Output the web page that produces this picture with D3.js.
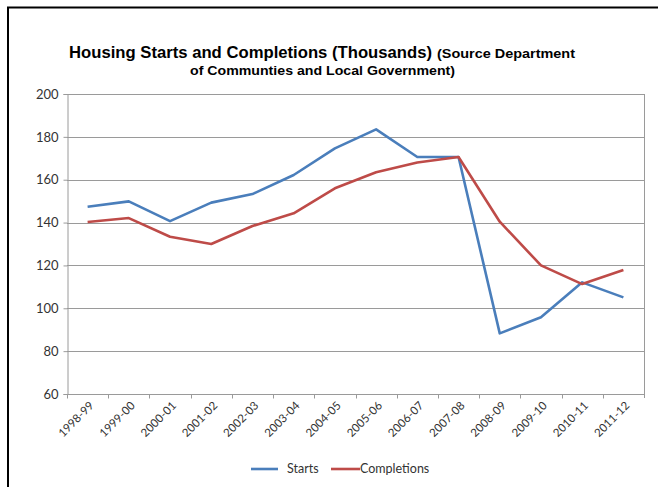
<!DOCTYPE html>
<html>
<head>
<meta charset="utf-8">
<script src="https://cdn.jsdelivr.net/npm/d3@7"></script>
<style>
  html, body { margin: 0; padding: 0; background: #fff; }
  svg { display: block; }
</style>
</head>
<body>
<svg id="chart" width="658" height="487"></svg>
<script>
// Financial years on the category axis
const years = ["1998-99","1999-00","2000-01","2001-02","2002-03","2003-04","2004-05",
               "2005-06","2006-07","2007-08","2008-09","2009-10","2010-11","2011-12"];
// Housing starts (thousands)
const starts = [147.4, 149.9, 140.7, 149.3, 153.3, 162.2, 174.6, 183.5, 170.6, 170.6, 88.3, 95.8, 112.1, 105.1];
// Housing completions (thousands)
const completions = [140.3, 142.1, 133.4, 130.0, 138.4, 144.3, 156.0, 163.5, 168.0, 170.6, 140.4, 120.0, 111.3, 117.9];
// Value axis ticks
const yTicks = [60, 80, 100, 120, 140, 160, 180, 200];
const seriesNames = ["Starts", "Completions"];
const seriesColors = ["#4a7ebb", "#be4b48"];

const svg = d3.select("#chart");
const plot = { left: 67, right: 644, top: 94, bottom: 394 };

// Outer chart frame (top and left edges)
svg.append("path")
  .attr("d", "M8,487 L8,7.5 L658,7.5")
  .attr("fill", "none").attr("stroke", "#000").attr("stroke-width", 2);

const x = d3.scaleBand().domain(years).range([plot.left, plot.right]);
const y = d3.scaleLinear().domain([60, 200]).range([plot.bottom, plot.top]);

const font = "Lato, 'Open Sans', sans-serif";

// Horizontal gridlines
svg.append("g").selectAll("line").data(yTicks.filter(d => d > 60)).join("line")
  .attr("x1", plot.left).attr("x2", plot.right)
  .attr("y1", d => Math.round(y(d)) + 0.5).attr("y2", d => Math.round(y(d)) + 0.5)
  .attr("stroke", "#9a9a9a").attr("stroke-width", 1);

// Right edge of the plot area
svg.append("line")
  .attr("x1", plot.right + 0.5).attr("x2", plot.right + 0.5)
  .attr("y1", plot.top).attr("y2", plot.bottom + 4)
  .attr("stroke", "#9a9a9a");

// Value axis
const yAxis = d3.axisLeft(y).tickValues(yTicks).tickSize(4).tickPadding(5);
const gy = svg.append("g").attr("transform", `translate(${plot.left + 0.5},0)`).call(yAxis);
gy.select(".domain").attr("stroke", "#9a9a9a");
gy.selectAll(".tick line").attr("stroke", "#9a9a9a");
gy.selectAll(".tick text").attr("fill", "#333").style("font", `13px ${font}`);

// Category axis: ticks sit on band boundaries
const gx = svg.append("g").attr("transform", `translate(0,${plot.bottom + 0.5})`);
gx.append("line").attr("x1", plot.left).attr("x2", plot.right)
  .attr("stroke", "#9a9a9a");
gx.selectAll("line.tick").data(years).join("line")
  .attr("class", "tick")
  .attr("x1", d => Math.round(x(d)) + 0.5).attr("x2", d => Math.round(x(d)) + 0.5)
  .attr("y1", 0).attr("y2", 4)
  .attr("stroke", "#9a9a9a");
gx.selectAll("text").data(years).join("text")
  .attr("transform", d => `translate(${x(d) + x.bandwidth() / 2 + 4},${9}) rotate(-45)`)
  .attr("text-anchor", "end")
  .attr("dy", "0.35em")
  .attr("fill", "#333")
  .style("font", `11.5px ${font}`)
  .text(d => d);

// Series lines
const line = d3.line()
  .x((d, i) => x(years[i]) + x.bandwidth() / 2)
  .y(d => y(d));

[starts, completions].forEach((vals, i) => {
  svg.append("path")
    .datum(vals)
    .attr("fill", "none")
    .attr("stroke", seriesColors[i])
    .attr("stroke-width", 2.6)
    .attr("stroke-linejoin", "round")
    .attr("d", line);
});

// Title
const titleFont = "'Liberation Sans', Arial, sans-serif";
svg.append("text")
  .attr("x", 69).attr("y", 58)
  .attr("textLength", 363).attr("lengthAdjust", "spacingAndGlyphs")
  .attr("fill", "#000")
  .style("font-family", titleFont).style("font-weight", "bold").style("font-size", "16.5px")
  .text("Housing Starts and Completions (Thousands)");
svg.append("text")
  .attr("x", 437).attr("y", 58)
  .attr("textLength", 138).attr("lengthAdjust", "spacingAndGlyphs")
  .attr("fill", "#000")
  .style("font-family", titleFont).style("font-weight", "bold").style("font-size", "13px")
  .text("(Source Department");
svg.append("text")
  .attr("x", 190).attr("y", 75)
  .attr("textLength", 265).attr("lengthAdjust", "spacingAndGlyphs")
  .attr("fill", "#000")
  .style("font-family", titleFont).style("font-weight", "bold").style("font-size", "13px")
  .text("of Communties and Local Government)");

// Legend
const legendItems = [
  { name: seriesNames[0], color: seriesColors[0], x1: 251, x2: 278, tx: 287 },
  { name: seriesNames[1], color: seriesColors[1], x1: 331, x2: 360, tx: 360 }
];
const lg = svg.append("g");
legendItems.forEach(it => {
  lg.append("line").attr("x1", it.x1).attr("x2", it.x2)
    .attr("y1", 469).attr("y2", 469)
    .attr("stroke", it.color).attr("stroke-width", 2.6);
  lg.append("text").attr("x", it.tx).attr("y", 469).attr("dy", "0.35em")
    .attr("fill", "#333").style("font", `12.5px ${font}`).text(it.name);
});
</script>
</body>
</html>
